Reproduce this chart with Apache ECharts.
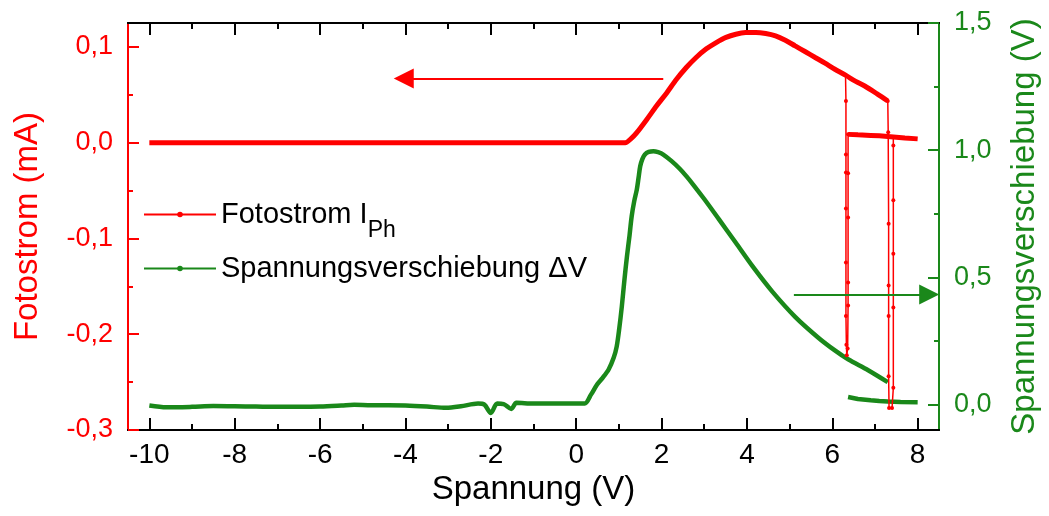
<!DOCTYPE html>
<html>
<head>
<meta charset="utf-8">
<script src="https://cdn.jsdelivr.net/npm/echarts@6/dist/echarts.min.js"></script>
<style>html,body{margin:0;padding:0;background:#fff;}#c{width:1049px;height:516px;}</style>
</head>
<body>
<div id="c"></div>
<script>
// ---- data ----
const xTicks = [-10, -8, -6, -4, -2, 0, 2, 4, 6, 8];
const xMinorTicks = [-9, -7, -5, -3, -1, 1, 3, 5, 7];
const leftTicks = [-0.3, -0.2, -0.1, 0, 0.1];
const leftMinorTicks = [-0.25, -0.15, -0.05, 0.05];
const rightTicks = [0, 0.5, 1.0, 1.5];
const rightMinorTicks = [0.25, 0.75, 1.25];

// Fotostrom, upper branch (mA)
const photoUpperV = [-10, -9, -8, -7, -6, -5, -4, -3, -2, -1, 0, 1, 1.15, 1.28, 1.42, 1.65, 1.88, 2.12, 2.35, 2.58, 2.81, 3.05, 3.28, 3.51, 3.74, 3.97, 4.21, 4.44, 4.67, 4.90, 5.13, 5.37, 5.60, 5.83, 6.06, 6.31, 6.55, 6.76, 7.05, 7.30];
const photoUpperI = [0, 0, 0, 0, 0, 0, 0, 0, 0, 0, 0, 0, 0, 0.004, 0.0105, 0.024, 0.0383, 0.052, 0.0662, 0.0785, 0.089, 0.098, 0.1046, 0.110, 0.1133, 0.1150, 0.1151, 0.1140, 0.1116, 0.107, 0.1011, 0.095, 0.0890, 0.083, 0.0767, 0.0705, 0.064, 0.0592, 0.051, 0.0435];
// Fotostrom, lower branch
const photoLowerV = [6.37, 6.6, 6.9, 7.1, 7.3, 7.5, 7.7, 8.0];
const photoLowerI = [0.0087, 0.0082, 0.0076, 0.0072, 0.0065, 0.0058, 0.005, 0.004];
// Fotostrom, jumps near 6.3 V and 7.3 V
const jumpAV = [6.31, 6.32, 6.32, 6.32, 6.32, 6.32, 6.32, 6.33, 6.34, 6.36, 6.37, 6.37, 6.37, 6.37, 6.37];
const jumpAI = [0.0705, 0.0435, -0.0122, -0.031, -0.0687, -0.125, -0.181, -0.211, -0.222, -0.215, -0.170, -0.146, -0.078, -0.032, 0.0087];
const jumpBV = [7.30, 7.31, 7.32, 7.32, 7.32, 7.32, 7.33, 7.40, 7.43, 7.43, 7.43, 7.43, 7.43, 7.43];
const jumpBI = [0.0435, 0.011, -0.0847, -0.149, -0.181, -0.244, -0.277, -0.277, -0.256, -0.172, -0.116, -0.06, -0.003, 0.006];

// Spannungsverschiebung (V)
const shiftV = [-10.0, -9.6, -9.0, -8.5, -8.0, -7.5, -7.0, -6.5, -6.0, -5.5, -5.2, -4.8, -4.4, -4.0, -3.5, -3.05, -2.7, -2.3, -2.15, -2.0, -1.85, -1.7, -1.52, -1.4, -1.0, -0.5, 0.0, 0.2, 0.35, 0.49, 0.62, 0.76, 0.88, 0.95, 1.01, 1.07, 1.13, 1.19, 1.25, 1.30, 1.36, 1.42, 1.46, 1.50, 1.55, 1.61, 1.70, 1.81, 1.92, 2.04, 2.23, 2.42, 2.58, 2.74, 3.0, 3.35, 3.74, 4.13, 4.59, 5.13, 5.68, 6.06, 6.37, 6.84, 7.30];
const shiftDV = [-0.004, -0.011, -0.009, -0.006, -0.007, -0.008, -0.009, -0.009, -0.008, -0.004, -0.001, -0.003, -0.003, -0.004, -0.008, -0.013, -0.007, 0.004, 0.0, -0.033, 0.004, 0.002, -0.017, 0.007, 0.004, 0.004, 0.004, 0.004, 0.04, 0.079, 0.105, 0.138, 0.185, 0.229, 0.30, 0.387, 0.49, 0.583, 0.665, 0.740, 0.80, 0.845, 0.89, 0.937, 0.965, 0.983, 0.993, 0.996, 0.992, 0.983, 0.958, 0.928, 0.898, 0.865, 0.808, 0.727, 0.636, 0.544, 0.445, 0.345, 0.262, 0.213, 0.178, 0.135, 0.088];
const shiftLowerV = [6.37, 6.6, 6.9, 7.1, 7.3, 7.6, 8.0];
const shiftLowerDV = [0.030, 0.022, 0.017, 0.014, 0.012, 0.010, 0.009];

// annotation arrows (data coordinates)
const redArrow = { from: [2.04, 0.067], to: [-4.04, 0.067] };
const greenArrow = { from: [5.10, 0.433], to: [8.27, 0.433] };

// ---- styling ----
const RED = '#ff0000';
const GREEN = '#1a881a';
const FONT = 'Liberation Sans';
const zip = (a, b) => a.map((v, i) => [v, b[i]]);
const commaFmt = v => v.toFixed(1).replace('.', ',');

const chart = echarts.init(document.getElementById('c'), null, { renderer: 'canvas' });

function xAx(pos, ticks, len, withLabel, name) {
  return {
    type: 'value', position: pos, min: -10.5, max: 8.5, gridIndex: 0,
    name: name || '', nameLocation: 'middle', nameGap: 37,
    nameTextStyle: { fontSize: 33, color: '#000', fontFamily: FONT },
    axisLine: { show: true, onZero: false, lineStyle: { color: '#000', width: 2 } },
    axisTick: { show: true, inside: true, length: len, customValues: ticks, lineStyle: { color: '#000', width: 2 } },
    axisLabel: withLabel ? { show: true, customValues: ticks, fontSize: 28, color: '#000', fontFamily: FONT, margin: 11, formatter: v => String(v) } : { show: false },
    splitLine: { show: false }
  };
}
function yAx(pos, min, max, ticks, len, color, withLabel, name, gap) {
  return {
    type: 'value', position: pos, min: min, max: max, gridIndex: 0,
    name: name || '', nameLocation: 'middle', nameGap: gap || 0, nameRotate: 90,
    nameTextStyle: { fontSize: 33, color: color, fontFamily: FONT },
    axisLine: { show: true, onZero: false, lineStyle: { color: color, width: 2 } },
    axisTick: { show: true, inside: true, length: len, customValues: ticks, lineStyle: { color: color, width: 2 } },
    axisLabel: withLabel ? { show: true, customValues: ticks, fontSize: 27, color: color, fontFamily: FONT, margin: 15, formatter: commaFmt } : { show: false },
    splitLine: { show: false }
  };
}

const option = {
  animation: false,
  backgroundColor: '#fff',
  textStyle: { fontFamily: FONT },
  grid: { left: 128, right: 106, top: 23, bottom: 86, containLabel: false },
  xAxis: [
    xAx('bottom', xTicks, 12, true, 'Spannung (V)'),
    xAx('bottom', xMinorTicks, 6, false),
    xAx('top', xTicks, 12, false),
    xAx('top', xMinorTicks, 6, false)
  ],
  yAxis: [
    yAx('left', -0.3, 0.125, leftTicks, 11, RED, true, 'Fotostrom (mA)', 84),
    yAx('left', -0.3, 0.125, leftMinorTicks, 5, RED, false),
    yAx('right', -0.1, 1.5, rightTicks, 11, GREEN, true, 'Spannungsverschiebung (V)', 69),
    yAx('right', -0.1, 1.5, rightMinorTicks, 5, GREEN, false)
  ],
  legend: {
    orient: 'vertical', left: 138, top: 182, itemGap: 12,
    itemWidth: 72, itemHeight: 7,
    data: ['Fotostrom', 'Spannungsverschiebung'],
    lineStyle: { width: 2 },
    textStyle: {
      fontSize: 29, color: '#000', fontFamily: FONT,
      rich: {
        a: { fontSize: 29, lineHeight: 32, color: '#000', fontFamily: FONT },
        sub: { fontSize: 23, lineHeight: 20, padding: [32, 0, 0, 0], color: '#000', fontFamily: FONT }
      }
    },
    formatter: function (name) {
      if (name === 'Fotostrom') return '{a|Fotostrom I}{sub|Ph}';
      return '{a|Spannungsverschiebung ΔV}';
    }
  },
  series: [
    {
      name: 'Fotostrom', type: 'line', xAxisIndex: 0, yAxisIndex: 0,
      data: zip(photoUpperV, photoUpperI), smooth: 0.3,
      symbol: 'circle', symbolSize: 4, showSymbol: false,
      lineStyle: { color: RED, width: 5 }, itemStyle: { color: RED },
      emphasis: { disabled: true }, z: 3,
      markLine: {
        silent: true, animation: false,
        symbol: ['none', 'triangle'], symbolSize: 20,
        label: { show: false },
        lineStyle: { color: RED, width: 2, type: 'solid' },
        itemStyle: { color: RED },
        data: [[{ coord: redArrow.from }, { coord: redArrow.to }]]
      }
    },
    {
      name: 'FotostromLower', type: 'line', xAxisIndex: 0, yAxisIndex: 0,
      data: zip(photoLowerV, photoLowerI),
      symbol: 'none', lineStyle: { color: RED, width: 5 }, itemStyle: { color: RED },
      emphasis: { disabled: true }, z: 3
    },
    {
      name: 'FotostromJumpA', type: 'line', xAxisIndex: 0, yAxisIndex: 0,
      data: zip(jumpAV, jumpAI),
      symbol: 'circle', symbolSize: 4, showSymbol: true,
      lineStyle: { color: RED, width: 1.5 }, itemStyle: { color: RED },
      emphasis: { disabled: true }, z: 3
    },
    {
      name: 'FotostromJumpB', type: 'line', xAxisIndex: 0, yAxisIndex: 0,
      data: zip(jumpBV, jumpBI),
      symbol: 'circle', symbolSize: 4, showSymbol: true,
      lineStyle: { color: RED, width: 1.5 }, itemStyle: { color: RED },
      emphasis: { disabled: true }, z: 3
    },
    {
      name: 'Spannungsverschiebung', type: 'line', xAxisIndex: 0, yAxisIndex: 2,
      data: zip(shiftV, shiftDV), smooth: 0.3,
      symbol: 'circle', symbolSize: 4, showSymbol: false,
      lineStyle: { color: GREEN, width: 4.5 }, itemStyle: { color: GREEN },
      emphasis: { disabled: true }, z: 2,
      markLine: {
        silent: true, animation: false,
        symbol: ['none', 'triangle'], symbolSize: 20,
        label: { show: false },
        lineStyle: { color: GREEN, width: 2, type: 'solid' },
        itemStyle: { color: GREEN },
        data: [[{ coord: greenArrow.from }, { coord: greenArrow.to }]]
      }
    },
    {
      name: 'SpannungLower', type: 'line', xAxisIndex: 0, yAxisIndex: 2,
      data: zip(shiftLowerV, shiftLowerDV),
      symbol: 'none', lineStyle: { color: GREEN, width: 4.5 }, itemStyle: { color: GREEN },
      emphasis: { disabled: true }, z: 2
    }
  ]
};
chart.setOption(option);
</script>
</body>
</html>
